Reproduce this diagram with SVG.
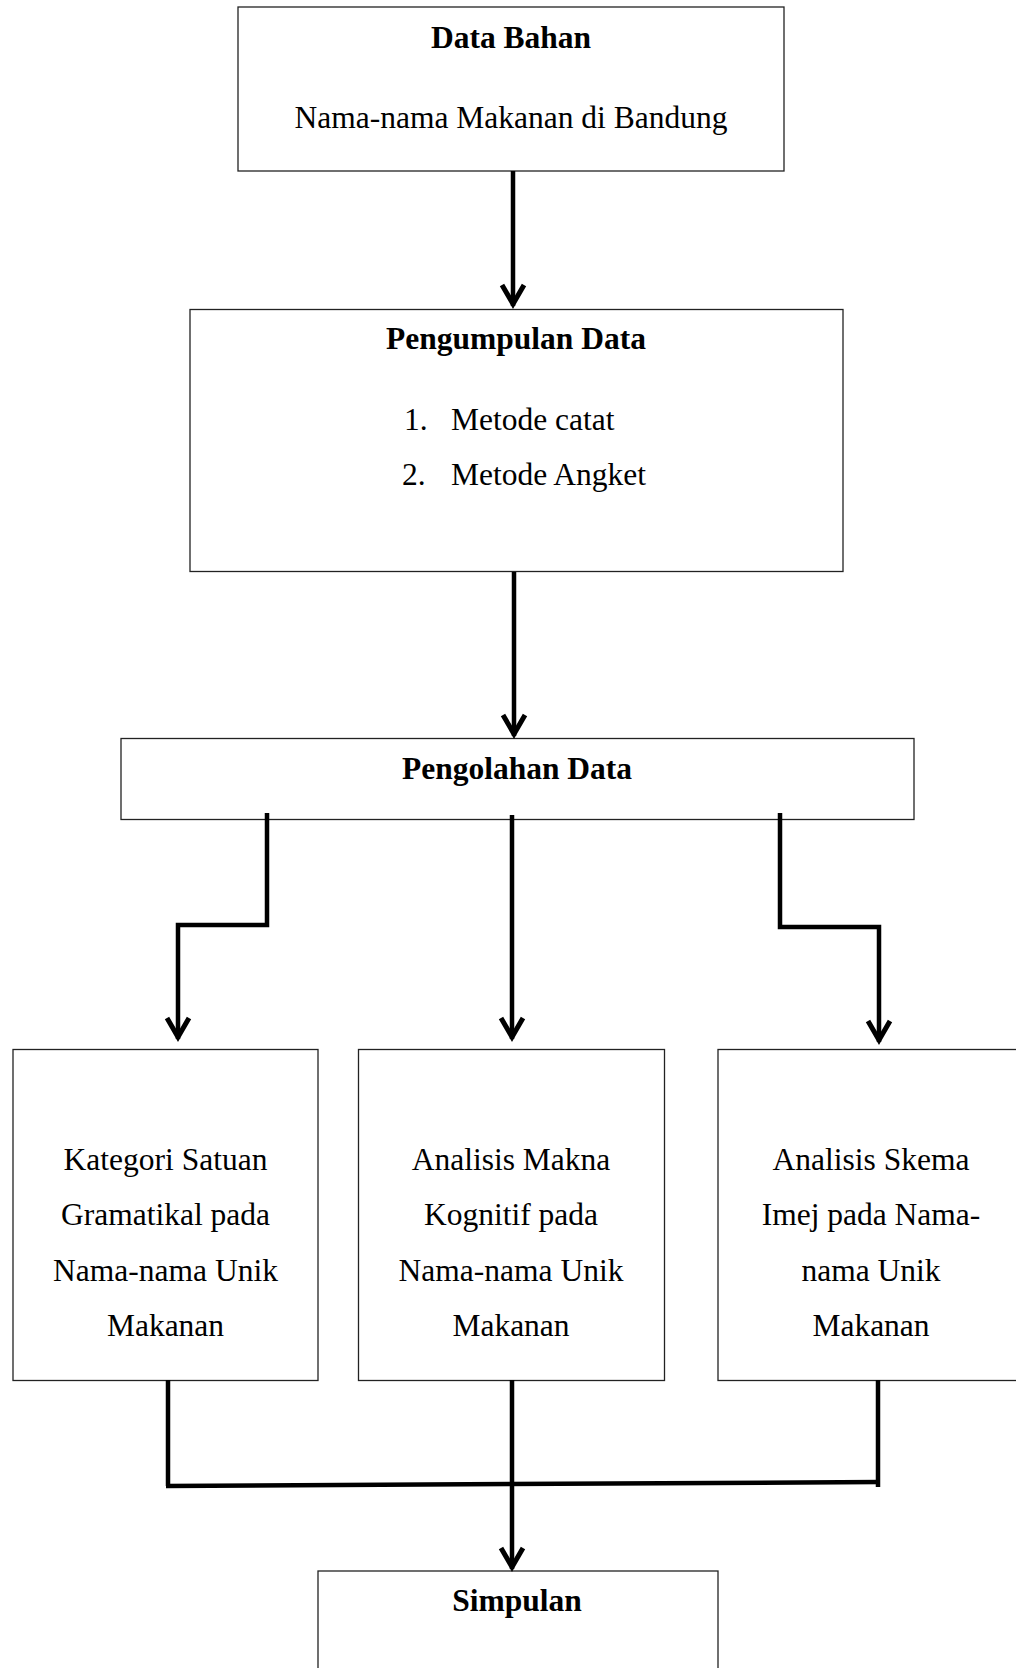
<svg xmlns="http://www.w3.org/2000/svg" width="1016" height="1668" viewBox="0 0 1016 1668">
<defs>
<style>
.box{fill:#fff;stroke:#222;stroke-width:1.3}
.t{font-family:"Liberation Serif","Times New Roman",serif;font-size:31.5px;fill:#000;text-anchor:middle}
.b{font-weight:bold}
.s{text-anchor:start}
.c{fill:none;stroke:#000;stroke-width:4.5;stroke-linejoin:miter}
</style>
<marker id="ah" markerUnits="userSpaceOnUse" markerWidth="40" markerHeight="40" viewBox="-30 -20 40 40" refX="0" refY="0" orient="auto">
<path d="M-21,-11 L-2,0 L-21,11" fill="none" stroke="#000" stroke-width="5" stroke-linejoin="miter"/>
</marker>
</defs>
<rect width="1016" height="1668" fill="#fff"/>
<g id="data-bahan">
<rect class="box" x="238" y="7" width="546" height="164"/>
<text class="t b" x="511" y="48">Data Bahan</text>
<text class="t" x="511" y="128">Nama-nama Makanan di Bandung</text>
</g>
<g id="pengumpulan-data">
<rect class="box" x="190" y="309.5" width="653" height="262"/>
<text class="t b" x="516" y="349">Pengumpulan Data</text>
<text class="t s" x="404" y="430">1.</text>
<text class="t s" x="451" y="430">Metode catat</text>
<text class="t s" x="402" y="485">2.</text>
<text class="t s" x="451" y="485">Metode Angket</text>
</g>
<g id="pengolahan-data">
<rect class="box" x="121" y="738.5" width="793" height="81"/>
<text class="t b" x="517" y="779">Pengolahan Data</text>
</g>
<g id="kategori">
<rect class="box" x="13" y="1049.5" width="305" height="331"/>
<text class="t" x="165.5" y="1170">Kategori Satuan</text>
<text class="t" x="165.5" y="1225">Gramatikal pada</text>
<text class="t" x="165.5" y="1281">Nama-nama Unik</text>
<text class="t" x="165.5" y="1336">Makanan</text>
</g>
<g id="analisis-makna">
<rect class="box" x="358.5" y="1049.5" width="306" height="331"/>
<text class="t" x="511" y="1170">Analisis Makna</text>
<text class="t" x="511" y="1225">Kognitif pada</text>
<text class="t" x="511" y="1281">Nama-nama Unik</text>
<text class="t" x="511" y="1336">Makanan</text>
</g>
<g id="analisis-skema">
<rect class="box" x="718" y="1049.5" width="307" height="331"/>
<text class="t" x="871" y="1170">Analisis Skema</text>
<text class="t" x="871" y="1225">Imej pada Nama-</text>
<text class="t" x="871" y="1281">nama Unik</text>
<text class="t" x="871" y="1336">Makanan</text>
</g>
<g id="simpulan">
<rect class="box" x="318" y="1571" width="400" height="120"/>
<text class="t b" x="517" y="1611">Simpulan</text>
</g>
<g id="connectors">
<path class="c" d="M513,171 L513,306" marker-end="url(#ah)"/>
<path class="c" d="M514,572 L514,736" marker-end="url(#ah)"/>
<path class="c" d="M267,813 L267,925 L178,925 L178,1039" marker-end="url(#ah)"/>
<path class="c" d="M512,815 L512,1039" marker-end="url(#ah)"/>
<path class="c" d="M780,813 L780,927 L879,927 L879,1042" marker-end="url(#ah)"/>
<path class="c" d="M168,1380 L168,1486"/>
<path class="c" d="M878,1380 L878,1487"/>
<path class="c" d="M166,1486 L880,1482" stroke-width="6"/>
<path class="c" d="M512,1380 L512,1569" marker-end="url(#ah)"/>
</g>
</svg>
